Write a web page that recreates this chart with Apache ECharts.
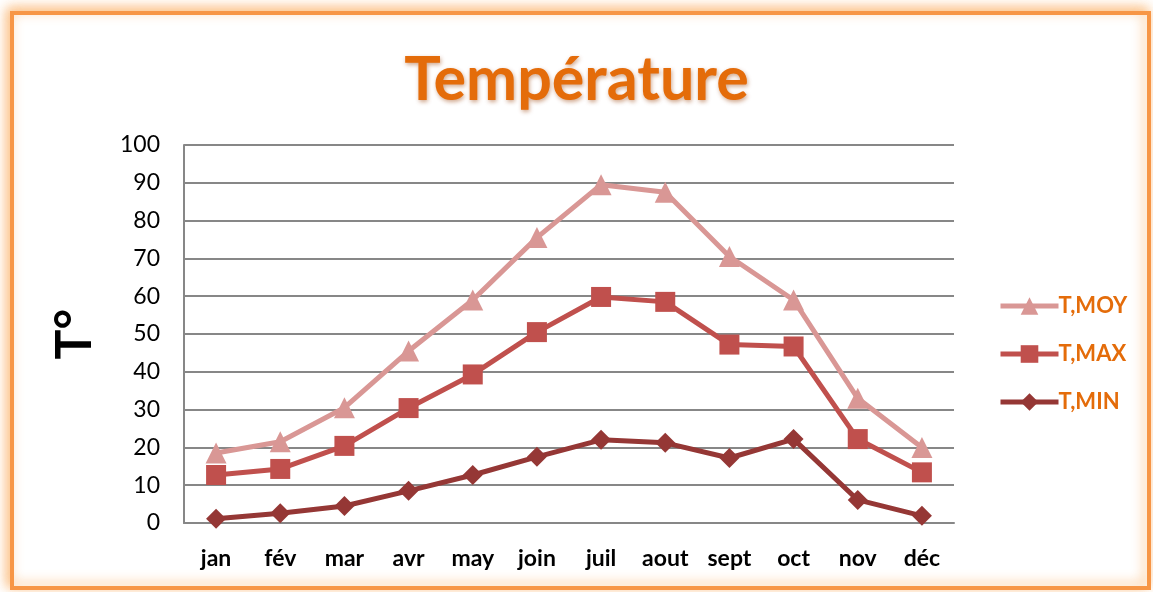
<!DOCTYPE html>
<html>
<head>
<meta charset="utf-8">
<script src="https://cdn.jsdelivr.net/npm/echarts@6/dist/echarts.min.js"></script>
<style>
html,body{margin:0;padding:0;background:#fff;}
#c{width:1153px;height:592px;}
</style>
</head>
<body>
<div id="c"></div>
<script>
const categories = ['jan','fév','mar','avr','may','join','juil','aout','sept','oct','nov','déc'];
const tMoy = [18.5, 21.5, 30.5, 45.5, 59, 75.5, 89.5, 87.5, 70.5, 59, 33, 20];
const tMax = [12.7, 14.3, 20.4, 30.4, 39.3, 50.5, 59.8, 58.5, 47.2, 46.7, 22.2, 13.4];
const tMin = [1.1, 2.6, 4.5, 8.5, 12.7, 17.5, 22, 21.2, 17.2, 22.2, 6.1, 1.9];
const yTicks = {min: 0, max: 100, interval: 10};

const chart = echarts.init(document.getElementById('c'), null, {renderer: 'canvas'});
const font = 'Lato, "Open Sans", sans-serif';
function mk(name, data, color, symbol, size) {
  return {
    name, type: 'line', data, symbol, symbolSize: size,
    lineStyle: {color, width: 5},
    itemStyle: {color},
    emphasis: {disabled: true},
    animation: false
  };
}
chart.setOption({
  animation: false,
  graphic: [
    {type: 'rect', shape: {x: 12, y: 13, width: 1137, height: 575},
     style: {fill: '#fff', stroke: '#F79646', lineWidth: 4, shadowBlur: 12, shadowColor: 'rgba(250,170,90,0.8)', shadowOffsetX: -3, shadowOffsetY: -3}, z: -10}
  ],
  title: {
    text: 'Température', left: 'center', top: 45,
    textStyle: {fontFamily: font, fontWeight: 'bold', fontSize: 61, color: '#E46C0A',
      textShadowColor: 'rgba(150,60,0,0.45)', textShadowBlur: 4, textShadowOffsetX: 1, textShadowOffsetY: 2}
  },
  legend: {
    orient: 'vertical', left: 993, top: 290, itemGap: 26, itemWidth: 58, itemHeight: 22,
    lineStyle: {width: 5},
    textStyle: {fontFamily: font, fontWeight: 'bold', fontSize: 22, color: '#E46C0A', padding: [0,0,0,-5]},
    data: ['T,MOY', 'T,MAX', 'T,MIN']
  },
  grid: {left: 184, right: 199, top: 145, bottom: 69},
  xAxis: {
    type: 'category', data: categories, boundaryGap: true,
    axisLine: {lineStyle: {color: '#878787', width: 2}},
    axisTick: {show: false},
    axisLabel: {fontFamily: font, fontWeight: 'bold', fontSize: 23, color: '#000', margin: 24}
  },
  yAxis: {
    type: 'value', min: yTicks.min, max: yTicks.max, interval: yTicks.interval,
    name: 'T°', nameLocation: 'middle', nameGap: 84, nameRotate: 90,
    nameTextStyle: {fontFamily: font, fontWeight: 'bold', fontSize: 50, color: '#000'},
    axisLine: {show: true, lineStyle: {color: '#878787', width: 2}},
    axisTick: {show: false},
    splitLine: {lineStyle: {color: '#878787', width: 2}},
    axisLabel: {fontFamily: font, fontSize: 23, color: '#000', margin: 24}
  },
  series: [
    mk('T,MOY', tMoy, '#D99795', 'triangle', 21),
    mk('T,MAX', tMax, '#C0504D', 'rect', 20),
    mk('T,MIN', tMin, '#953735', 'diamond', 20)
  ]
});
</script>
</body>
</html>
